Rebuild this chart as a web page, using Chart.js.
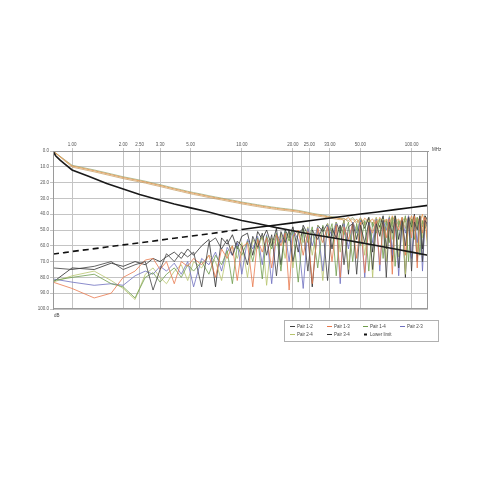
<!DOCTYPE html>
<html>
<head>
<meta charset="utf-8">
<script src="https://cdn.jsdelivr.net/npm/chart.js@4"></script>
<style>
html,body{margin:0;padding:0;background:#fff;}
#wrap{width:480px;height:480px;position:relative;}
</style>
</head>
<body>
<div id="wrap"><canvas id="c" width="480" height="480"></canvas></div>
<script>
// Frequency axis ticks (MHz)
const tickVals = [1, 2, 2.5, 3.3, 5, 10, 20, 25, 33, 50, 100];

// Frequencies of measured pair data (MHz)
const freqs = [0.772, 1.0, 1.35, 1.7, 2.0, 2.35, 2.7, 3.0, 3.3, 3.6,
  4.0, 4.4, 4.8, 5.2, 5.8, 6.4, 7.0, 7.6, 8.2, 8.8,
  9.4, 10, 10.8, 11.6, 12.4, 13.2, 14, 15, 16, 17,
  18, 19, 20, 21.5, 23, 24.5, 26, 28, 30, 32,
  34, 36, 38, 40, 42.5, 45, 47.5, 50, 53, 56,
  59, 62, 65, 68, 71, 74, 77, 80, 84, 88,
  92, 96, 100, 104, 108, 112, 116, 120, 125];

// Frequencies of the smooth reference curves (MHz)
const curveFreqs = [0.772, 0.8, 0.85, 0.9, 1, 1.25, 1.6, 2, 2.5, 3.15, 4, 5, 6.3, 8, 10, 12.5, 16, 20, 25, 31.5, 40, 50, 63, 80, 100, 125];

const descCurve = [0, 3.0, 5.8, 8.0, 12.0, 16.0, 20.5, 24.0, 27.5, 30.5, 33.5, 36.0, 38.5, 41.5, 44.0, 46.0, 48.5, 50.5, 52.5, 54.3, 56.2, 58.0, 60.0, 62.0, 64.0, 66.0];
const lowerLimit = [65.2, 65.0, 64.6, 64.3, 63.6, 62.3, 60.8, 59.4, 58.1, 56.7, 55.2, 53.9, 52.5, 51.0, 49.7, 48.3, 46.8, 45.5, 44.1, 42.7, 41.3, 39.9, 38.6, 37.1, 35.8, 34.4];

// Upper bundle curves (on freqs)
const bundleA = [0, 9.5, 12.5, 15, 16.8, 18.3, 19.6, 20.8, 21.8, 22.8,
  24.0, 25.0, 26.0, 26.8, 27.8, 28.8, 29.6, 30.3, 31.0, 31.6,
  32.2, 32.8, 33.4, 34.0, 34.5, 35.0, 35.4, 35.9, 36.3, 36.7,
  37.0, 37.3, 37.6, 38.1, 38.7, 39.3, 39.9, 40.5, 41.0, 41.6,
  42.0, 42.4, 42.8, 44, 42, 46, 43, 47, 42.5, 45,
  43, 48, 42, 46, 43, 49, 41, 45, 43, 50,
  42, 46, 41, 48, 42, 45, 40, 47, 43];
const bundleB = [0, 10.2, 13.2, 15.7, 17.5, 19.0, 20.3, 21.5, 22.5, 23.5,
  24.7, 25.7, 26.7, 27.5, 28.5, 29.5, 30.3, 31.0, 31.7, 32.3,
  32.9, 33.5, 34.1, 34.7, 35.2, 35.7, 36.1, 36.6, 37.0, 37.4,
  37.7, 38.0, 38.3, 38.8, 39.4, 40.0, 40.6, 41.2, 41.7, 42.3,
  42.7, 43.1, 43.5, 42.5, 45, 43, 46, 42, 47, 43,
  46, 42, 49, 43, 45, 42, 48, 42, 47, 43,
  49, 41, 46, 42, 49, 41, 46, 42, 45];
const bundleC = [0, 9.0, 12.0, 14.5, 16.3, 17.8, 19.1, 20.3, 21.3, 22.3,
  23.5, 24.5, 25.5, 26.3, 27.3, 28.3, 29.1, 29.8, 30.5, 31.1,
  31.7, 32.3, 32.9, 33.5, 34.0, 34.5, 34.9, 35.4, 35.8, 36.2,
  36.5, 36.8, 37.1, 37.6, 38.2, 38.8, 39.4, 40.0, 40.5, 41.1,
  41.5, 41.9, 42.5, 43, 44, 42, 45, 43, 46, 42,
  48, 43, 45, 42, 47, 43, 46, 41, 48, 42,
  45, 43, 49, 41, 46, 43, 48, 41, 46];

// Pair values (dB) on freqs
const pair12 = [74, 75, 73, 70, 75, 72, 70, 88, 75, 65,
  70, 64, 67, 64, 86, 58, 55, 62, 56, 66,
  57, 60, 72, 54, 61, 52, 66, 53, 79, 51,
  58, 50, 70, 52, 49, 76, 50, 56, 48, 82,
  49, 55, 47, 72, 48, 46, 78, 47, 58, 45,
  75, 46, 54, 44, 80, 45, 52, 43, 74, 44,
  60, 42, 76, 45, 50, 41, 70, 44, 47];
const pair13 = [83, 87, 93, 90, 80, 76, 69, 68, 75, 70,
  84, 70, 73, 68, 72, 66, 80, 62, 68, 60,
  82, 61, 58, 86, 56, 64, 55, 74, 53, 60,
  52, 88, 54, 50, 66, 51, 84, 49, 58, 48,
  70, 47, 80, 48, 56, 46, 68, 45, 77, 47,
  52, 44, 72, 46, 55, 43, 78, 45, 50, 42,
  66, 44, 55, 41, 74, 43, 52, 42, 60];
const pair14 = [82, 80, 78, 84, 86, 93, 80, 77, 83, 78,
  74, 80, 72, 76, 70, 78, 66, 72, 63, 84,
  60, 66, 57, 70, 55, 81, 54, 62, 52, 76,
  51, 57, 50, 83, 49, 58, 48, 74, 47, 55,
  46, 79, 47, 53, 45, 70, 46, 60, 44, 76,
  45, 52, 43, 68, 44, 58, 42, 73, 44, 50,
  41, 70, 43, 56, 42, 66, 44, 49, 45];
const pair23 = [81, 83, 85, 84, 85, 79, 76, 78, 73, 76,
  71, 78, 70, 86, 68, 72, 64, 76, 61, 66,
  58, 78, 56, 62, 54, 72, 53, 84, 52, 58,
  51, 70, 50, 56, 87, 49, 60, 48, 76, 47,
  54, 46, 84, 46, 62, 45, 52, 44, 80, 45,
  58, 43, 76, 44, 50, 42, 66, 43, 79, 44,
  52, 41, 68, 43, 58, 42, 76, 43, 50];
const pair24 = [83, 79, 76, 82, 87, 94, 78, 74, 80, 84,
  76, 72, 82, 70, 74, 66, 70, 82, 64, 60,
  68, 58, 80, 56, 62, 54, 85, 55, 60, 52,
  68, 51, 74, 50, 58, 48, 66, 47, 82, 46,
  52, 45, 64, 44, 75, 45, 50, 43, 66, 44,
  80, 42, 53, 43, 70, 41, 56, 43, 67, 42,
  78, 43, 51, 42, 64, 41, 55, 43, 65];
const pair34 = [83, 74, 75, 71, 73, 70, 72, 68, 70, 67,
  64, 68, 62, 66, 60, 56, 86, 55, 59, 53,
  62, 54, 52, 66, 51, 56, 50, 60, 49, 72,
  50, 55, 48, 64, 47, 53, 86, 47, 51, 46,
  62, 45, 52, 44, 78, 45, 56, 43, 49, 42,
  64, 44, 48, 41, 62, 43, 70, 41, 56, 43,
  80, 42, 48, 40, 70, 42, 62, 41, 44];

const pairLabels = ['Pair 1-2', 'Pair 1-3', 'Pair 1-4', 'Pair 2-3', 'Pair 2-4', 'Pair 3-4'];
const pairValues = [pair12, pair13, pair14, pair23, pair24, pair34];
const pairColors = ['#3f3f3f', '#e8784c', '#6f9d4c', '#6d6fbf', '#b7c46c', '#2a2a2a'];

const yTicks = [0, 10, 20, 30, 40, 50, 60, 70, 80, 90, 100];

function toXY(xs, ys) { return xs.map((x, i) => ({x: x, y: ys[i]})); }

const datasets = [];
datasets.push({label: 'desc', data: toXY(curveFreqs, descCurve), borderColor: '#1a1a1a', borderWidth: 1.6, inLegend: false});
datasets.push({label: 'Lower limit', data: toXY(curveFreqs, lowerLimit), borderColor: '#111', borderWidth: 1.6,
  segment: {borderDash: ctx => ctx.p1.parsed.x <= 10.01 ? [6, 4] : undefined}, inLegend: true, isLimit: true});
pairLabels.forEach((l, i) => datasets.push({label: l, data: toXY(freqs, pairValues[i]), borderColor: pairColors[i], borderWidth: 0.8, inLegend: true}));
datasets.push({label: 'b1', data: toXY(freqs, bundleA), borderColor: '#e39a55', borderWidth: 0.9, inLegend: false});
datasets.push({label: 'b2', data: toXY(freqs, bundleB), borderColor: '#c8a46c', borderWidth: 0.8, inLegend: false});
datasets.push({label: 'b3', data: toXY(freqs, bundleC), borderColor: '#9aab7a', borderWidth: 0.8, inLegend: false});
datasets.forEach(d => { d.pointRadius = 0; d.tension = 0; d.fill = false; });

const FONT = {family: 'Liberation Sans, Arial, sans-serif', size: 4.5};

const extras = {
  id: 'extras',
  afterDraw(chart) {
    const ctx = chart.ctx, a = chart.chartArea;
    ctx.save();
    ctx.strokeStyle = '#9a9a9a';
    ctx.lineWidth = 1;
    ctx.strokeRect(a.left + 0.5, a.top + 0.5, a.right - a.left - 1, a.bottom - a.top - 1);
    ctx.fillStyle = '#444';
    ctx.font = '4.5px Liberation Sans, Arial, sans-serif';
    ctx.textBaseline = 'middle';
    ctx.textAlign = 'left';
    ctx.fillText('MHz', a.right + 4, a.top - 1);
    ctx.fillText('dB', a.left + 1, a.bottom + 7);
    // legend box
    const bx = 284, by = 320, bw = 154, bh = 21;
    ctx.strokeStyle = '#b0b0b0';
    ctx.strokeRect(bx + 0.5, by + 0.5, bw, bh);
    const items = chart.data.datasets.filter(d => d.inLegend && !d.isLimit).concat(chart.data.datasets.filter(d => d.isLimit));
    const colX = [290, 327, 363, 400];
    const rowY = [326.5, 334.5];
    items.forEach((d, i) => {
      const cx = colX[i % 4], cy = rowY[Math.floor(i / 4)];
      ctx.beginPath();
      if (d.isLimit) { ctx.lineWidth = 2; ctx.strokeStyle = '#111'; ctx.moveTo(cx + 1, cy); ctx.lineTo(cx + 4, cy); }
      else { ctx.lineWidth = 1; ctx.strokeStyle = d.borderColor; ctx.moveTo(cx, cy); ctx.lineTo(cx + 5, cy); }
      ctx.stroke();
      ctx.fillStyle = '#444';
      ctx.fillText(d.label, cx + 7, cy);
    });
    ctx.restore();
  }
};

new Chart(document.getElementById('c'), {
  type: 'line',
  data: {datasets: datasets},
  options: {
    responsive: false,
    animation: false,
    parsing: true,
    layout: {padding: {left: 31, top: 139, right: 52, bottom: 171}},
    plugins: {legend: {display: false}, tooltip: {enabled: false}, title: {display: false}},
    scales: {
      x: {
        type: 'logarithmic', position: 'top', min: 0.772, max: 125,
        afterBuildTicks: s => { s.ticks = tickVals.map(v => ({value: v})); },
        afterFit: s => { s.height = 12; },
        ticks: {font: FONT, color: '#555', padding: 1, maxRotation: 0, autoSkip: false,
          callback: v => Number(v).toFixed(2)},
        grid: {color: '#c4c4c4', lineWidth: 1, tickLength: 3},
        border: {color: '#9a9a9a'}
      },
      y: {
        type: 'linear', reverse: true, min: 0, max: 100,
        afterBuildTicks: s => { s.ticks = yTicks.map(v => ({value: v})); },
        afterFit: s => { s.width = 22; },
        ticks: {font: FONT, color: '#555', padding: 1, callback: v => Number(v).toFixed(1)},
        grid: {color: '#c4c4c4', lineWidth: 1, tickLength: 3},
        border: {color: '#9a9a9a'}
      }
    }
  },
  plugins: [extras]
});
</script>
</body>
</html>
